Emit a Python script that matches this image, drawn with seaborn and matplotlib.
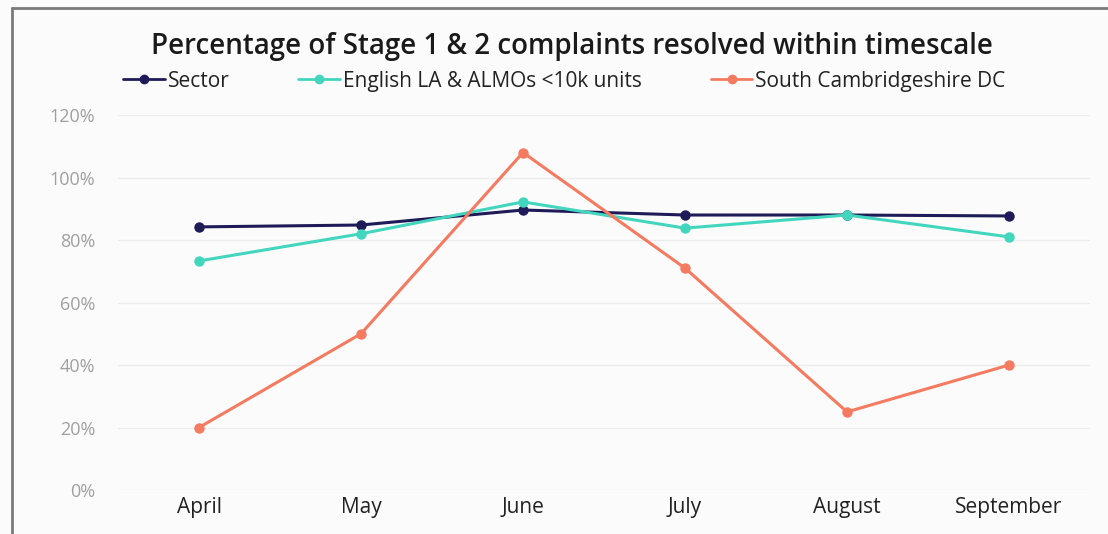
import pandas as pd
import matplotlib.pyplot as plt
import seaborn as sns
from matplotlib.lines import Line2D
from matplotlib.ticker import PercentFormatter

# Data
months = ["April", "May", "June", "July", "August", "September"]
sector = [0.842, 0.848, 0.896, 0.880, 0.880, 0.877]
english_la = [0.733, 0.820, 0.922, 0.838, 0.880, 0.810]
south_cambs = [0.20, 0.50, 1.08, 0.71, 0.25, 0.40]

series_names = ["Sector", "English LA & ALMOs <10k units", "South Cambridgeshire DC"]
colours = ["#1e1b58", "#43d6bf", "#f47a60"]

df = pd.DataFrame({
    "Month": months * 3,
    "Value": sector + english_la + south_cambs,
    "Series": [series_names[0]] * 6 + [series_names[1]] * 6 + [series_names[2]] * 6,
})
df["pos"] = df["Month"].map({m: i for i, m in enumerate(months)})

sns.set_style("white")
plt.rcParams["font.family"] = ["Open Sans", "DejaVu Sans"]

fig = plt.figure(figsize=(11.08, 5.34), dpi=100)
fig.patch.set_facecolor("#fbfbfb")
ax = fig.add_axes([0.1065, 0.0824, 0.8773, 0.7022])
ax.set_facecolor("#fbfbfb")

sns.lineplot(
    data=df, x="pos", y="Value", hue="Series",
    palette=dict(zip(series_names, colours)),
    marker="o", markersize=7.5, markeredgewidth=0, linewidth=2.2,
    ax=ax, legend=False,
)

ax.set_xlim(-0.5, 5.5)
ax.set_ylim(0, 1.2)
ax.set_xticks(range(len(months)))
ax.set_xticklabels(months, fontsize=15, color="#222222")
ax.set_yticks([0, 0.2, 0.4, 0.6, 0.8, 1.0, 1.2])
ax.yaxis.set_major_formatter(PercentFormatter(1.0, decimals=0))
ax.tick_params(axis="y", labelsize=13, labelcolor="#a0a0a0", length=0, pad=16.5)
ax.tick_params(axis="x", length=0, pad=5)
ax.grid(axis="y", color="#ececec", linewidth=1)
ax.set_xlabel("")
ax.set_ylabel("")
for s in ax.spines.values():
    s.set_visible(False)

fig.text(0.516, 0.912, "Percentage of Stage 1 & 2 complaints resolved within timescale",
         ha="center", va="center", fontsize=20, fontweight="semibold", color="#1a1a1a")

handles = [Line2D([0], [0], color=c, marker="o", markersize=6, linewidth=2) for c in colours]
fig.legend(handles, series_names, loc="center left", bbox_to_anchor=(0.111, 0.848),
           ncol=3, frameon=False, fontsize=15, handlelength=2.0, handletextpad=0.15,
           columnspacing=3.3, labelcolor="#222222", borderpad=0, borderaxespad=0)

# grey frame at top and left edge of the screenshot
fig.add_artist(Line2D([0.011, 1.0], [0.985, 0.985], color="#7a7a7a", linewidth=2))
fig.add_artist(Line2D([0.011, 0.011], [0.0, 0.985], color="#7a7a7a", linewidth=2))

fig.savefig("out.png", dpi=100, facecolor=fig.get_facecolor())
